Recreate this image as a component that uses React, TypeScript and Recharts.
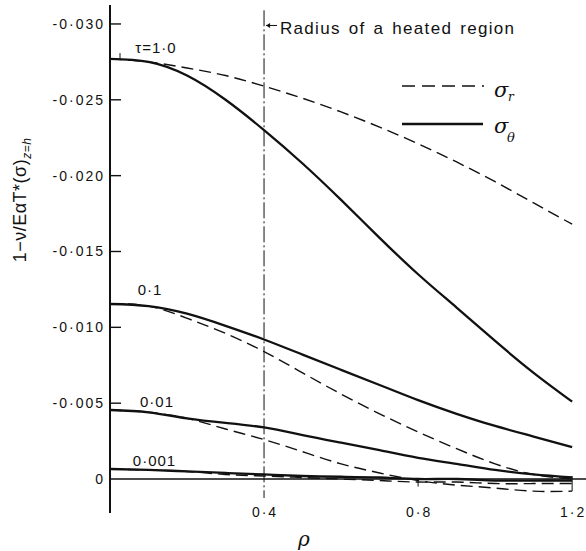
import React from 'react';
import { LineChart, Line, XAxis, YAxis, ReferenceLine, ReferenceDot, Legend } from 'recharts';

// radial coordinate rho
const rho = [0, 0.1, 0.2, 0.3, 0.4, 0.5, 0.6, 0.7, 0.8, 0.9, 1.0, 1.1, 1.2];

// tau = 1.0
const t1Theta = [-0.0277, -0.0275, -0.0266, -0.0250, -0.0230, -0.0208, -0.0184, -0.0159, -0.0135, -0.0113, -0.0091, -0.0070, -0.0051];
const t1R = [-0.0277, -0.0275, -0.0271, -0.0266, -0.0259, -0.0251, -0.0242, -0.0232, -0.0221, -0.0209, -0.0196, -0.0182, -0.0168];
// tau = 0.1
const t01Theta = [-0.01154, -0.0114, -0.0109, -0.0101, -0.0092, -0.0082, -0.0072, -0.0062, -0.0052, -0.0043, -0.0035, -0.0028, -0.0021];
const t01R = [-0.01154, -0.0114, -0.0106, -0.0096, -0.0084, -0.0070, -0.0056, -0.0043, -0.0031, -0.0020, -0.0010, -0.0003, 0.0];
// tau = 0.01
const t001Theta = [-0.00455, -0.0044, -0.0040, -0.0037, -0.0034, -0.0029, -0.0024, -0.0019, -0.0014, -0.0010, -0.0006, -0.0003, -0.0001];
const t001R = [-0.00455, -0.0044, -0.0040, -0.0033, -0.0026, -0.0018, -0.0010, -0.0004, 0.0001, 0.0004, 0.0006, 0.0008, 0.0008];
// tau = 0.001
const t0001Theta = [-0.00066, -0.0006, -0.0005, -0.0004, -0.0003, -0.0002, -0.00015, -0.0001, 0.0, 0.0, 0.0001, 0.0001, 0.0001];
const t0001R = [-0.00066, -0.0006, -0.0005, -0.0003, -0.0002, -0.0001, 0.0, 0.0001, 0.0002, 0.0002, 0.0003, 0.0003, 0.0003];

const yTicks = [-0.03, -0.025, -0.02, -0.015, -0.01, -0.005, 0];
const yTickLabels = ['-0·030', '-0·025', '-0·020', '-0·015', '-0·010', '-0·005', '0'];
const xTicks = [0.4, 0.8, 1.2];
const xTickLabels = ['0·4', '0·8', '1·2'];

const curveLabels = [
  { x: 0.1195, y: -0.02841, text: 'τ=1·0' },
  { x: 0.104, y: -0.01246, text: '0·1' },
  { x: 0.122, y: -0.00508, text: '0·01' },
  { x: 0.1156, y: -0.00119, text: '0·001' },
];

const rows = rho.map((r, i) => ({
  rho: r,
  t1Theta: t1Theta[i],
  t1R: t1R[i],
  t01Theta: t01Theta[i],
  t01R: t01R[i],
  t001Theta: t001Theta[i],
  t001R: t001R[i],
  t0001Theta: t0001Theta[i],
  t0001R: t0001R[i],
}));

const FONT = '"Liberation Sans", Arial, sans-serif';
const INK = '#111';

const YTick = (props: any) => {
  const { x, y, payload } = props;
  const idx = yTicks.indexOf(payload.value);
  const label = idx >= 0 ? yTickLabels[idx] : String(payload.value);
  return (
    <g>
      {payload.value !== 0 && (
        <line x1={x} x2={x + 11} y1={y} y2={y} stroke={INK} strokeWidth={1.4} />
      )}
      <text x={x - 5} y={y} dy={5} textAnchor="end" fontSize={14} letterSpacing={2} fontFamily={FONT} fill={INK}>
        {label}
      </text>
    </g>
  );
};

const XTick = (props: any) => {
  const { x, y, payload } = props;
  const idx = xTicks.indexOf(payload.value);
  const label = idx >= 0 ? xTickLabels[idx] : String(payload.value);
  return (
    <text x={x + 1} y={y} dy={4} textAnchor="middle" fontSize={14} letterSpacing={2} fontFamily={FONT} fill={INK}>
      {label}
    </text>
  );
};

const YTitle = (props: any) => {
  const vb = props.viewBox || { x: 0, y: 5 };
  const cx = vb.x + 26;
  const cy = vb.y + 195;
  return (
    <text x={cx} y={cy} transform={`rotate(-90, ${cx}, ${cy})`} textAnchor="middle" fontSize={18} letterSpacing={0.5} fontFamily={FONT} fill={INK}>
      1−ν/EαT*(σ)
      <tspan fontSize={12} dy={5} fontStyle="italic">z=h</tspan>
    </text>
  );
};

const XTitle = (props: any) => {
  const vb = props.viewBox || { x: 110, y: 513 };
  return (
    <text x={vb.x + 194} y={vb.y + 33} textAnchor="middle" fontSize={20} fontStyle="italic" fontFamily='"DejaVu Serif", serif' fill={INK}>
      ρ
    </text>
  );
};

const RadiusLabel = (props: any) => {
  const vb = props.viewBox || { x: 0, y: 0 };
  const cx = vb.x + (vb.width || 0) / 2;
  const cy = vb.y + (vb.height || 0) / 2;
  return (
    <g>
      <line x1={cx + 2} x2={cx + 13} y1={cy} y2={cy} stroke={INK} strokeWidth={1} />
      <path d={`M ${cx + 2} ${cy} L ${cx + 6} ${cy - 2.5} L ${cx + 6} ${cy + 2.5} Z`} fill={INK} />
      <text x={cx + 16} y={cy + 9} fontSize={17} letterSpacing={1.3} wordSpacing={2} fontFamily={FONT} fill={INK}>
        Radius of a heated region
      </text>
    </g>
  );
};

const LegendBox = () => (
  <svg width={150} height={90} style={{ overflow: 'visible' }}>
    <line x1={7} x2={89} y1={16} y2={16} stroke={INK} strokeWidth={1.3} strokeDasharray="13 7" />
    <text x={99} y={27} fontSize={21} fontStyle="italic" fontFamily='"DejaVu Serif", serif' fill={INK}>σ</text>
    <text x={113} y={31} fontSize={12} fontStyle="italic" fontFamily='"DejaVu Serif", serif' fill={INK}>r</text>
    <line x1={7} x2={88} y1={54} y2={54} stroke={INK} strokeWidth={2.4} />
    <text x={99} y={63} fontSize={21} fontStyle="italic" fontFamily='"DejaVu Serif", serif' fill={INK}>σ</text>
    <text x={112} y={72} fontSize={13} fontStyle="italic" fontFamily='"DejaVu Serif", serif' fill={INK}>θ</text>
  </svg>
);

const series = [
  { key: 't1Theta', dashed: false },
  { key: 't1R', dashed: true },
  { key: 't01Theta', dashed: false },
  { key: 't01R', dashed: true },
  { key: 't001Theta', dashed: false },
  { key: 't001R', dashed: true },
  { key: 't0001Theta', dashed: false },
  { key: 't0001R', dashed: true },
];

export default function App() {
  return (
    <div style={{ position: 'absolute', left: 0, top: 0, background: '#fff' }}>
      <LineChart width={586} height={551} data={rows} margin={{ top: 5, right: 0, bottom: 0, left: 0 }}>
        <XAxis
          type="number"
          dataKey="rho"
          domain={[0, 1.236]}
          ticks={xTicks}
          allowDataOverflow
          axisLine={false}
          tickLine={false}
          tickSize={0}
          tickMargin={0}
          height={38}
          tick={<XTick />}
          label={<XTitle />}
        />
        <YAxis
          type="number"
          domain={[-0.03125, 0.00224]}
          reversed
          allowDataOverflow
          ticks={yTicks}
          width={110}
          axisLine={{ stroke: INK, strokeWidth: 2 }}
          tickLine={false}
          tickSize={0}
          tickMargin={0}
          tick={<YTick />}
          label={<YTitle />}
        />
        <ReferenceLine y={0} stroke={INK} strokeWidth={1.3} />
        <ReferenceLine
          segment={[{ x: 0.4, y: -0.0309 }, { x: 0.4, y: 0.00125 }]}
          stroke={INK}
          strokeWidth={1}
          strokeDasharray="16 3 2 3"
        />
        <ReferenceLine segment={[{ x: 0.8, y: 0 }, { x: 0.8, y: 0.0005 }]} stroke={INK} strokeWidth={1} />
        <ReferenceLine segment={[{ x: 1.2, y: -0.0002 }, { x: 1.2, y: 0.0008 }]} stroke={INK} strokeWidth={1} />
        <ReferenceLine segment={[{ x: 0.026, y: -0.02808 }, { x: 0.026, y: -0.0277 }]} stroke={INK} strokeWidth={1} />
        {series.map((s) => (
          <Line
            key={s.key}
            dataKey={s.key}
            type="natural"
            stroke={INK}
            strokeWidth={s.dashed ? 1.4 : 2.3}
            strokeDasharray={s.dashed ? '12 6' : undefined}
            dot={false}
            activeDot={false}
            isAnimationActive={false}
            legendType="none"
          />
        ))}
        {curveLabels.map((c) => (
          <ReferenceDot
            key={c.text}
            x={c.x}
            y={c.y}
            r={0}
            fill="none"
            stroke="none"
            label={{ value: c.text, position: 'center', fontSize: 15, letterSpacing: 1, fill: INK, fontFamily: FONT }}
          />
        ))}
        <ReferenceDot x={0.4} y={-0.0299} r={0} fill="none" stroke="none" label={<RadiusLabel />} />
        <Legend
          layout="horizontal"
          verticalAlign="middle"
          align="center"
          content={<LegendBox />}
          wrapperStyle={{ position: 'absolute', left: 395, top: 70, width: 150, height: 90 }}
        />
      </LineChart>
    </div>
  );
}
